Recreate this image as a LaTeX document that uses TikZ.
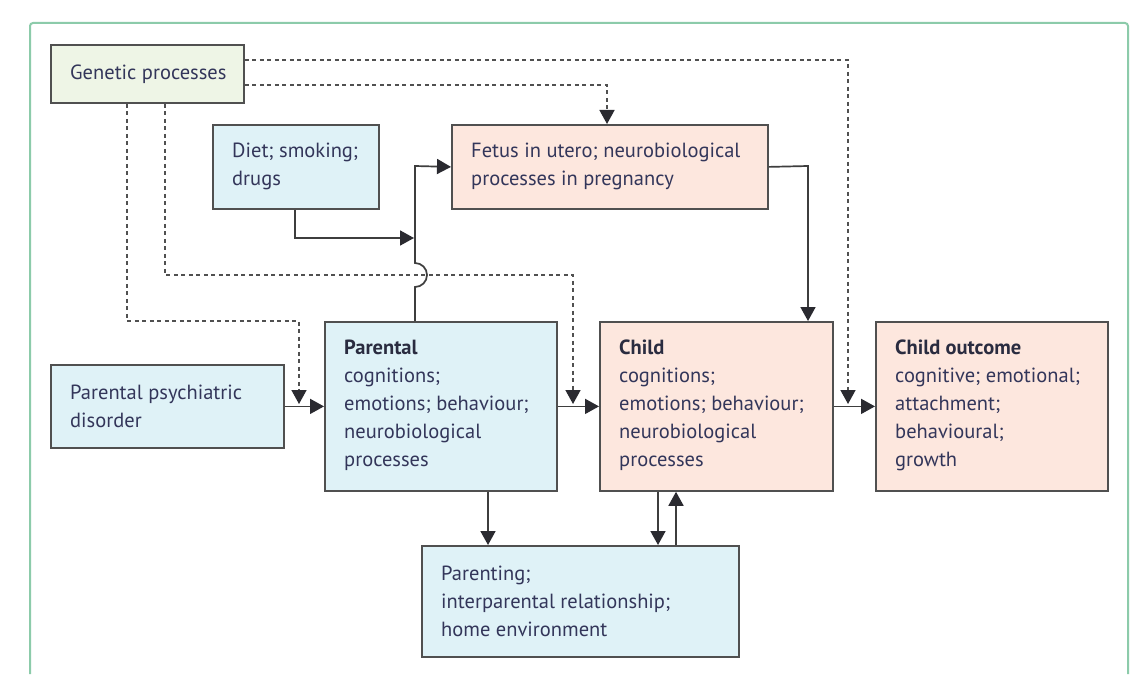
\documentclass[tikz,border=0pt]{standalone}
\usepackage{fontspec}
\setmainfont{PT Sans}
\usetikzlibrary{arrows.meta}
\definecolor{frameg}{HTML}{8CCBAA}
\definecolor{boxline}{HTML}{505050}
\definecolor{fblue}{HTML}{DFF2F7}
\definecolor{fpeach}{HTML}{FDE7DE}
\definecolor{fgreen}{HTML}{EEF5E6}
\definecolor{txtc}{HTML}{33365A}
\definecolor{headc}{HTML}{2A2C40}
\definecolor{linec}{HTML}{3E3E3E}
\definecolor{tipc}{HTML}{2A2A30}
\definecolor{dashc}{HTML}{505050}
\tikzset{
  box/.style={draw=boxline, line width=1.8pt, anchor=north west, inner sep=0pt},
  txt/.style={anchor=west, align=left, inner sep=0pt, text=txtc,
    font=\fontsize{20.5}{28}\selectfont},
  conn/.style={draw=linec, line width=1.7pt,
    -{Triangle[width=15pt,length=14pt,sep=0pt,color=tipc]}},
  gdash/.style={draw=dashc, line width=1.5pt, dash pattern=on 4pt off 3.5pt},
  garrow/.style={gdash, -{Triangle[width=15pt,length=14pt,sep=0pt,color=tipc]}},
}
\newcommand{\hd}[1]{{\bfseries\color{headc}#1}}
\begin{document}
\begin{tikzpicture}[x=1pt,y=-1pt]
\useasboundingbox (0,0) rectangle (1147,674);
\fill[white] (0,0) rectangle (1147,674);
\draw[frameg, line width=2pt, rounded corners=3pt] (30,674) -- (30,23) -- (1128,23) -- (1128,674);

% boxes
\node[box, fill=fgreen, minimum width=193pt, minimum height=58pt] (gen) at (50,44) {};
\node[box, fill=fblue, minimum width=166pt, minimum height=84pt] (diet) at (212,124) {};
\node[box, fill=fpeach, minimum width=316pt, minimum height=84pt] (fet) at (451,124) {};
\node[box, fill=fblue, minimum width=233pt, minimum height=83pt] (ppd) at (50,364) {};
\node[box, fill=fblue, minimum width=232pt, minimum height=169pt] (par) at (324,321) {};
\node[box, fill=fpeach, minimum width=233pt, minimum height=169pt] (chi) at (599,321) {};
\node[box, fill=fpeach, minimum width=232pt, minimum height=169pt] (out) at (875,321) {};
\node[box, fill=fblue, minimum width=317pt, minimum height=111pt] (pen) at (421,545) {};

% texts
\node[txt] (gent) at ([xshift=20pt]gen.west) {Genetic processes};
\node[txt] (dietT) at ([xshift=20pt]diet.west) {Diet; smoking;\\drugs};
\node[txt] (fetT) at ([xshift=20pt]fet.west) {Fetus in utero; neurobiological\\processes in pregnancy};
\node[txt] (ppdT) at ([xshift=20pt]ppd.west) {Parental psychiatric\\disorder};
\node[txt] (parT) at ([xshift=20pt,yshift=1pt]par.west) {\hd{Parental}\\cognitions;\\emotions; behaviour;\\neurobiological\\processes};
\node[txt] (chiT) at ([xshift=20pt,yshift=1pt]chi.west) {\hd{Child}\\cognitions;\\emotions; behaviour;\\neurobiological\\processes};
\node[txt] (outT) at ([xshift=20pt,yshift=1pt]out.west) {\hd{Child outcome}\\cognitive; emotional;\\attachment;\\behavioural;\\growth};
\node[txt] (penT) at ([xshift=20pt]pen.west) {Parenting;\\interparental relationship;\\home environment};

% coordinates for arrow ends on lines
\coordinate (gA) at (299,404);
\coordinate (gB) at (573,404);
\coordinate (gC) at (848,404);
\coordinate (dj) at (414,238);

% genetic dashed connectors
\draw[garrow] (gen.south -| 127,0) -- (127,321) -- (299,321) -- (gA);
\draw[garrow] (gen.south -| 165,0) -- (165,275) -- (573,275) -- (gB);
\draw[garrow] (gen.east |- 0,60) -- (848,60) -- (gC);
\draw[garrow] (gen.east |- 0,85) -- (607,85) -- (fet.north -| 607,0);

% solid connectors
\draw[conn] (diet.south -| 295,0) -- (295,238) -- (dj);
\draw[conn] (par.north -| 415,0) -- (415,287) arc[start angle=-90, end angle=90, radius=12pt] -- (415,166) -- (fet.west);
\draw[conn] (ppd.east) -- (par.west);
\draw[conn] (par.east) -- (chi.west);
\draw[conn] (chi.east) -- (out.west);
\draw[conn] (fet.east) -- (808,166) -- (chi.north -| 808,0);
\draw[conn] (par.south -| 488,0) -- (pen.north -| 488,0);
\draw[conn] (chi.south -| 658,0) -- (pen.north -| 658,0);
\draw[conn] (pen.north -| 676,0) -- (chi.south -| 676,0);
\end{tikzpicture}
\end{document}
